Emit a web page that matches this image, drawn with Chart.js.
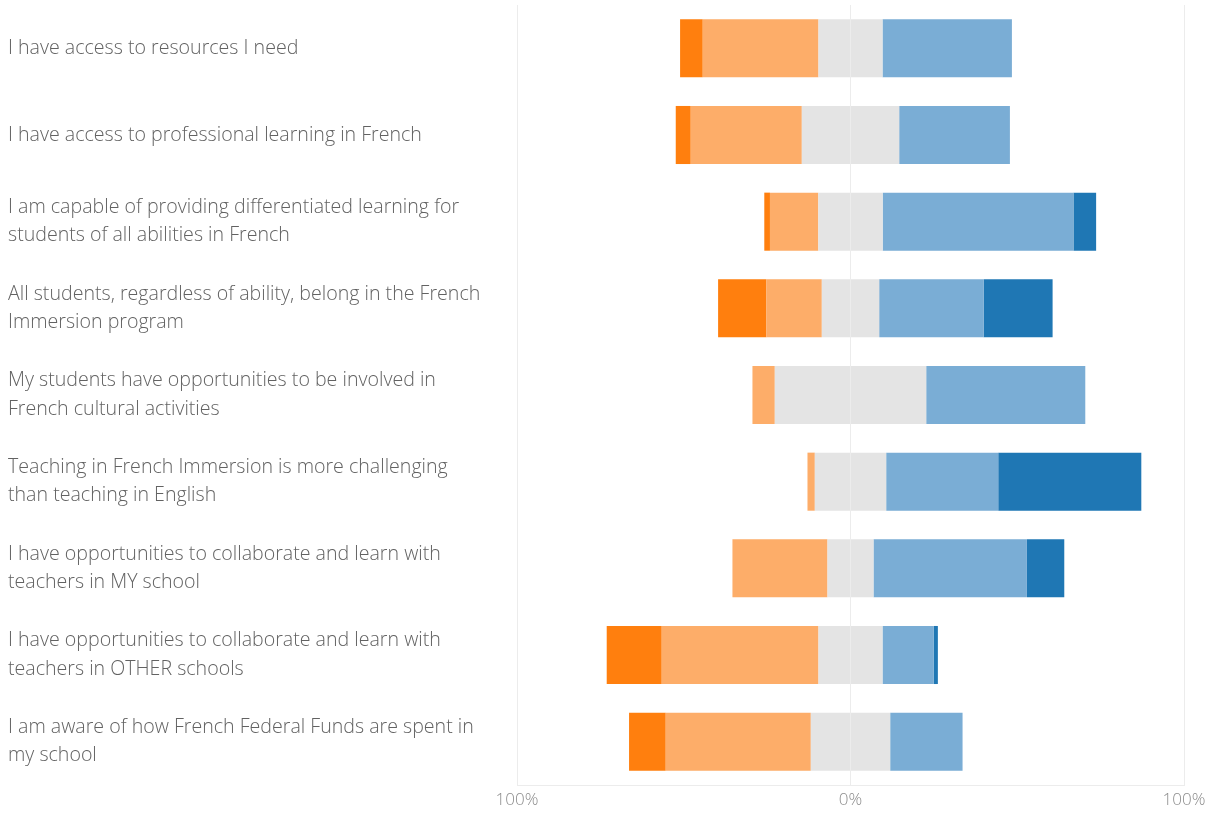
<!DOCTYPE html>
<html>
<head>
<meta charset="utf-8">
<script src="https://cdn.jsdelivr.net/npm/chart.js@4.4.1/dist/chart.umd.min.js"></script>
<style>
  html, body { margin: 0; padding: 0; background: #fff; }
  #wrap { width: 1218px; height: 814px; }
</style>
</head>
<body>
<div id="wrap"><canvas id="chart"></canvas></div>
<script>
// Survey statements (one per bar)
const statements = [
  "I have access to resources I need",
  "I have access to professional learning in French",
  ["I am capable of providing differentiated learning for", "students of all abilities in French"],
  ["All students, regardless of ability, belong in the French", "Immersion program"],
  ["My students have opportunities to be involved in", "French cultural activities"],
  ["Teaching in French Immersion is more challenging", "than teaching in English"],
  ["I have opportunities to collaborate and learn with", "teachers in MY school"],
  ["I have opportunities to collaborate and learn with", "teachers in OTHER schools"],
  ["I am aware of how French Federal Funds are spent in", "my school"]
];

// Response shares in percent
const stronglyDisagree = [6.8, 4.5, 1.7, 14.5, 0, 0, 0, 16.5, 11.0];
const disagree         = [34.7, 33.3, 14.5, 16.6, 6.7, 2.2, 28.5, 47.0, 43.5];
const neutral          = [19.2, 29.2, 19.3, 17.2, 45.4, 21.4, 13.8, 19.2, 23.8];
const agree            = [38.8, 33.2, 57.2, 31.3, 47.7, 33.6, 46.0, 15.3, 21.7];
const stronglyAgree    = [0, 0, 6.8, 20.7, 0, 42.9, 11.2, 1.3, 0];

const xTicks = [-100, 0, 100];

const colors = {
  sd: "#ff7f0e",
  d:  "#fdad69",
  n:  "#e4e4e4",
  a:  "#7aadd5",
  sa: "#1f77b4"
};

// neutral is split around zero; negatives stack outward from zero in dataset order
const datasets = [
  { label: "Neutral (left)",    data: neutral.map(v => -v / 2),     backgroundColor: colors.n },
  { label: "Disagree",          data: disagree.map(v => -v),         backgroundColor: colors.d },
  { label: "Strongly disagree", data: stronglyDisagree.map(v => -v), backgroundColor: colors.sd },
  { label: "Neutral (right)",   data: neutral.map(v => v / 2),       backgroundColor: colors.n },
  { label: "Agree",             data: agree,                         backgroundColor: colors.a },
  { label: "Strongly agree",    data: stronglyAgree,                 backgroundColor: colors.sa }
].map(d => ({ ...d, borderWidth: 0, barPercentage: 0.67, categoryPercentage: 1 }));

new Chart(document.getElementById("chart").getContext("2d"), {
  type: "bar",
  data: { labels: statements, datasets },
  options: {
    indexAxis: "y",
    responsive: true,
    maintainAspectRatio: false,
    animation: false,
    layout: { padding: { left: 8, right: 34, top: 5, bottom: 0 } },
    scales: {
      x: {
        stacked: true,
        min: -100,
        max: 100,
        afterBuildTicks: axis => { axis.ticks = xTicks.map(v => ({ value: v })); },
        afterFit: axis => { axis.height = 29; },
        grid: { color: "#ececec", drawTicks: false },
        border: { color: "#ececec" },
        ticks: {
          padding: 5,
          color: "#8c8c8c",
          font: { family: "Open Sans", size: 17, weight: 300 },
          callback: v => Math.abs(v) + "%"
        }
      },
      y: {
        stacked: true,
        afterFit: axis => {
          axis.width = 509;
          // two-line labels would otherwise push the plot down
          axis.paddingTop = 0;
          axis.paddingBottom = 0;
        },
        grid: { display: false },
        border: { display: false },
        ticks: {
          crossAlign: "far",
          color: "#626262",
          font: { family: "Open Sans", size: 19.6, weight: 300, lineHeight: 1.45 }
        }
      }
    },
    plugins: {
      legend: { display: false },
      tooltip: { enabled: false }
    }
  }
});
</script>
</body>
</html>
